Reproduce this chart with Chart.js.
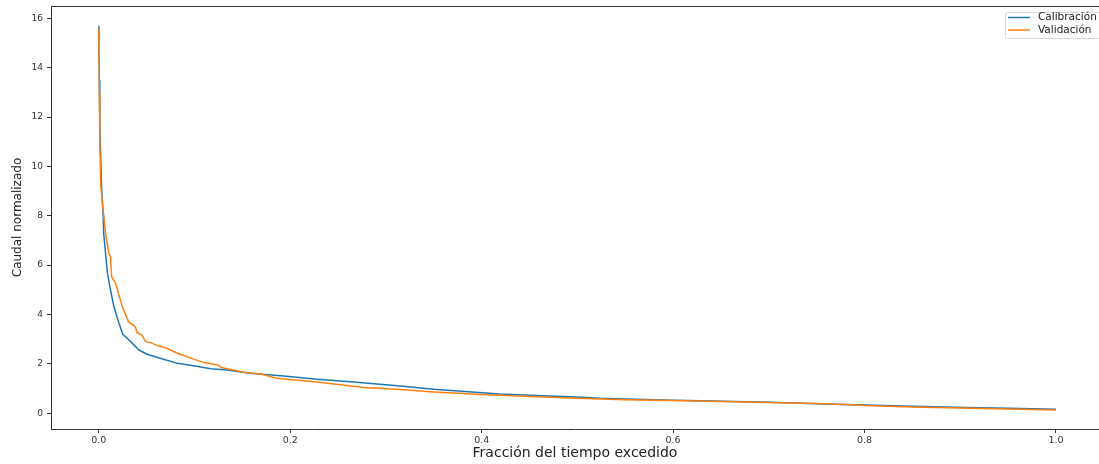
<!DOCTYPE html>
<html>
<head>
<meta charset="utf-8">
<script src="https://cdn.jsdelivr.net/npm/chart.js@4.4.0/dist/chart.umd.min.js"></script>
<style>
  body { margin: 0; background: #fff; }
  .wrap { width: 1099px; height: 464px; position: relative; }
</style>
</head>
<body>
<div class="wrap"><canvas id="fdc"></canvas></div>
<script>
// curva de duracion de caudales
const calX = [0, 0.0005, 0.001, 0.002, 0.003, 0.0045, 0.005, 0.009, 0.0115, 0.0157, 0.021, 0.025, 0.0296, 0.035, 0.042, 0.0505, 0.064, 0.082, 0.099, 0.117, 0.134, 0.158, 0.193, 0.228, 0.263, 0.315, 0.35, 0.419, 0.45, 0.5, 0.524, 0.55, 0.6, 0.629, 0.7, 0.767, 0.8, 0.85, 0.906, 0.95, 1.0]
const calY = [15.7, 13.5, 11.8, 10.2, 9.0, 8.0, 7.3, 5.67, 5.13, 4.32, 3.64, 3.2, 3.04, 2.83, 2.56, 2.39, 2.23, 2.02, 1.92, 1.8, 1.75, 1.62, 1.51, 1.38, 1.27, 1.1, 0.97, 0.78, 0.73, 0.66, 0.61, 0.58, 0.53, 0.5, 0.44, 0.36, 0.33, 0.28, 0.23, 0.2, 0.16]
const valX = [0, 0.0005, 0.001, 0.002, 0.0035, 0.007, 0.0104, 0.0122, 0.0133, 0.0174, 0.021, 0.0244, 0.031, 0.038, 0.04, 0.045, 0.0487, 0.054, 0.061, 0.071, 0.082, 0.099, 0.11, 0.125, 0.128, 0.151, 0.169, 0.186, 0.228, 0.277, 0.315, 0.35, 0.4, 0.45, 0.5, 0.55, 0.6, 0.65, 0.7, 0.75, 0.78, 0.8, 0.85, 0.9, 0.95, 1.0]
const valY = [15.6, 13.0, 11.0, 9.2, 8.6, 7.29, 6.48, 6.34, 5.53, 5.27, 4.79, 4.32, 3.71, 3.51, 3.26, 3.17, 2.9, 2.86, 2.74, 2.63, 2.43, 2.19, 2.05, 1.95, 1.85, 1.66, 1.59, 1.42, 1.26, 1.04, 0.96, 0.86, 0.76, 0.68, 0.61, 0.55, 0.51, 0.47, 0.43, 0.39, 0.35, 0.31, 0.25, 0.21, 0.17, 0.13]
const seriesNames = ["Calibración", "Validación"]
const xTicks = [0, 0.2, 0.4, 0.6, 0.8, 1.0]
const yTicks = [0, 2, 4, 6, 8, 10, 12, 14, 16]

const toPts = (xs, ys) => xs.map((x, i) => ({ x: x, y: ys[i] }))
const axisColor = "#333"
const font = "'DejaVu Sans', sans-serif"

// marco superior y leyenda dentro del area, estilo matplotlib
const frameAndLegend = {
  id: "frameAndLegend",
  afterDraw(chart) {
    const ctx = chart.ctx
    const a = chart.chartArea
    ctx.save()
    ctx.strokeStyle = axisColor
    ctx.lineWidth = 1
    ctx.beginPath()
    ctx.moveTo(a.left, a.top + 0.5)
    ctx.lineTo(a.right, a.top + 0.5)
    ctx.stroke()

    // leyenda
    const bx = 1005, by = 12, bw = 100, bh = 26
    ctx.fillStyle = "rgba(255,255,255,0.85)"
    ctx.strokeStyle = "#d8d8d8"
    ctx.beginPath()
    ctx.roundRect(bx + 0.5, by + 0.5, bw, bh, 2)
    ctx.fill()
    ctx.stroke()
    ctx.font = "10.5px " + font
    ctx.textBaseline = "middle"
    chart.data.datasets.forEach((ds, i) => {
      const y = by + 5.5 + i * 12.5
      ctx.strokeStyle = ds.borderColor
      ctx.lineWidth = 1.5
      ctx.beginPath()
      ctx.moveTo(bx + 3, y)
      ctx.lineTo(bx + 25, y)
      ctx.stroke()
      ctx.fillStyle = "#222"
      ctx.fillText(ds.label, bx + 33, y)
    })
    ctx.restore()
  }
}

new Chart(document.getElementById("fdc"), {
  type: "line",
  data: {
    datasets: [
      { label: seriesNames[0], data: toPts(calX, calY), borderColor: "#1f77b4", borderWidth: 1.5, pointRadius: 0, tension: 0, fill: false, order: 2 },
      { label: seriesNames[1], data: toPts(valX, valY), borderColor: "#ff7f0e", borderWidth: 1.5, pointRadius: 0, tension: 0, fill: false, order: 1 }
    ]
  },
  options: {
    responsive: true,
    maintainAspectRatio: false,
    animation: false,
    layout: { padding: { top: 6, right: 0, left: 0, bottom: 0 } },
    plugins: { legend: { display: false }, tooltip: { enabled: false } },
    scales: {
      x: {
        type: "linear",
        min: -0.05,
        max: 1.045,
        afterBuildTicks: s => { s.ticks = xTicks.map(v => ({ value: v })) },
        afterFit: s => { s.height = 35; s.paddingLeft = 0; s.paddingRight = 0 },
        ticks: { color: axisColor, font: { family: font, size: 9.5 }, padding: 2, maxRotation: 0, callback: v => v.toFixed(1) },
        grid: { drawOnChartArea: false, tickLength: 4, tickColor: axisColor },
        border: { color: axisColor, width: 1 },
        title: { display: true, text: "Fracción del tiempo excedido", color: "#222", font: { family: font, size: 14 }, padding: { top: 4, bottom: 2 } }
      },
      y: {
        type: "linear",
        min: -0.64,
        max: 16.5,
        afterBuildTicks: s => { s.ticks = yTicks.map(v => ({ value: v })) },
        afterFit: s => { s.width = 51; s.paddingTop = 0; s.paddingBottom = 0 },
        ticks: { color: axisColor, font: { family: font, size: 9 }, padding: 4, callback: v => String(v) },
        grid: { drawOnChartArea: false, tickLength: 4, tickColor: axisColor },
        border: { color: axisColor, width: 1 },
        title: { display: true, text: "Caudal normalizado", color: "#222", font: { family: font, size: 12 }, padding: { top: 11, bottom: 0 } }
      }
    }
  },
  plugins: [frameAndLegend]
})
</script>
</body>
</html>
